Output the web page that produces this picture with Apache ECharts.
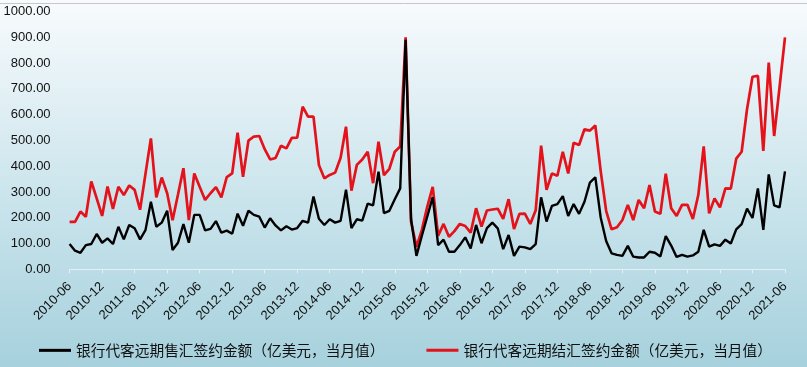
<!DOCTYPE html>
<html>
<head>
<meta charset="utf-8">
<script src="https://cdn.jsdelivr.net/npm/echarts@6/dist/echarts.min.js"></script>
<style>
html,body{margin:0;padding:0;width:807px;height:367px;overflow:hidden;}
#c{width:807px;height:367px;}
</style>
</head>
<body>
<div id="c"></div>
<script>
// Months 2010-06 .. 2021-06
const startYear = 2010, startMonth = 6, monthCount = 133;
const categories = [];
for (let k = 0; k < monthCount; k++) {
  const m = startMonth - 1 + k;
  const y = startYear + Math.floor(m / 12);
  const mm = (m % 12) + 1;
  categories.push(y + '-' + (mm < 10 ? '0' + mm : '' + mm));
}

const seriesNames = [
  '银行代客远期售汇签约金额（亿美元，当月值）',
  '银行代客远期结汇签约金额（亿美元，当月值）'
];

// 售汇 (black)
const salesValues = [
  98, 72, 64, 94, 98, 137, 103, 120, 98, 165,
  116, 172, 159, 116, 152, 262, 165, 181, 227, 75,
  103, 175, 103, 211, 211, 151, 157, 187, 142, 150,
  138, 216, 169, 227, 211, 204, 162, 198, 170, 151,
  167, 154, 160, 188, 181, 282, 196, 172, 194, 181,
  188, 309, 160, 194, 189, 255, 248, 379, 218, 227,
  272, 314, 890, 195, 52, 130, 205, 280, 94, 115,
  68, 68, 94, 124, 81, 172, 101, 160, 181, 159,
  78, 133, 52, 88, 85, 78, 98, 279, 185, 246,
  253, 284, 207, 253, 215, 262, 336, 357, 200, 110,
  62, 56, 52, 91, 49, 46, 46, 68, 64, 50,
  129, 92, 48, 56, 49, 54, 68, 153, 88, 97,
  91, 115, 100, 155, 175, 235, 199, 314, 153, 368,
  248, 240, 380
];

// 结汇 (red)
const settleValues = [
  184, 184, 224, 204, 341, 275, 207, 321, 234, 320,
  288, 325, 308, 231, 370, 508, 279, 356, 295, 190,
  290, 392, 191, 372, 320, 269, 295, 319, 279, 358,
  372, 530, 359, 499, 515, 517, 466, 426, 432, 479,
  469, 510, 511, 631, 592, 592, 405, 353, 366, 375,
  433, 553, 305, 405, 426, 456, 334, 495, 365, 390,
  456, 476, 900, 185, 87, 153, 243, 320, 130, 176,
  126, 148, 176, 168, 142, 237, 166, 228, 232, 235,
  196, 272, 156, 215, 216, 176, 229, 480, 308, 372,
  363, 456, 372, 491, 482, 543, 538, 558, 380, 227,
  155, 163, 191, 250, 191, 269, 237, 327, 224, 215,
  371, 237, 207, 250, 250, 195, 288, 477, 217, 275,
  240, 314, 313, 429, 456, 622, 747, 750, 459, 802,
  517, 708, 900
];

const yMin = 0, yMax = 1000, yStep = 100;

const chart = echarts.init(document.getElementById('c'), null, {renderer: 'canvas'});
chart.setOption({
  animation: false,
  backgroundColor: {
    type: 'linear', x: 0, y: 0, x2: 0, y2: 1,
    colorStops: [
      {offset: 0, color: '#f8fbfd'},
      {offset: 0.45, color: '#d2e8ef'},
      {offset: 1, color: '#a6d1dd'}
    ]
  },
  graphic: [{
    type: 'line', shape: {x1: 0, y1: 3.5, x2: 807, y2: 3.5},
    style: {stroke: '#c8c8c8', lineWidth: 1}
  }],
  grid: {left: 69.6, right: 22, top: 11.5, bottom: 97.7, containLabel: false},
  legend: {
    left: 34, top: 338,
    itemWidth: 32, itemHeight: 3, itemGap: 42,
    icon: 'rect',
    textStyle: {fontFamily: 'Noto Sans CJK SC', fontSize: 14.7, color: '#111'},
    data: seriesNames
  },
  xAxis: {
    type: 'category',
    data: categories,
    boundaryGap: false,
    axisLine: {lineStyle: {color: '#e2eff4', width: 1}},
    axisTick: {interval: 5, length: 4, lineStyle: {color: '#e2eff4'}},
    axisLabel: {
      interval: 5, rotate: 45, margin: 15,
      fontFamily: 'Liberation Sans', fontSize: 13, color: '#111'
    },
    splitLine: {show: false}
  },
  yAxis: {
    type: 'value', min: yMin, max: yMax, interval: yStep,
    axisLine: {show: false}, axisTick: {show: false},
    splitLine: {show: false},
    axisLabel: {
      margin: 19, fontFamily: 'Liberation Sans', fontSize: 13, color: '#111',
      formatter: v => v.toFixed(2)
    }
  },
  series: [
    {
      name: seriesNames[0], type: 'line', data: salesValues,
      showSymbol: false, symbol: 'none', z: 3,
      lineStyle: {color: '#000000', width: 2.4},
      itemStyle: {color: '#000000'}
    },
    {
      name: seriesNames[1], type: 'line', data: settleValues,
      showSymbol: false, symbol: 'none', z: 2,
      lineStyle: {color: '#e3121b', width: 2.7},
      itemStyle: {color: '#e3121b'}
    }
  ]
});
</script>
</body>
</html>
